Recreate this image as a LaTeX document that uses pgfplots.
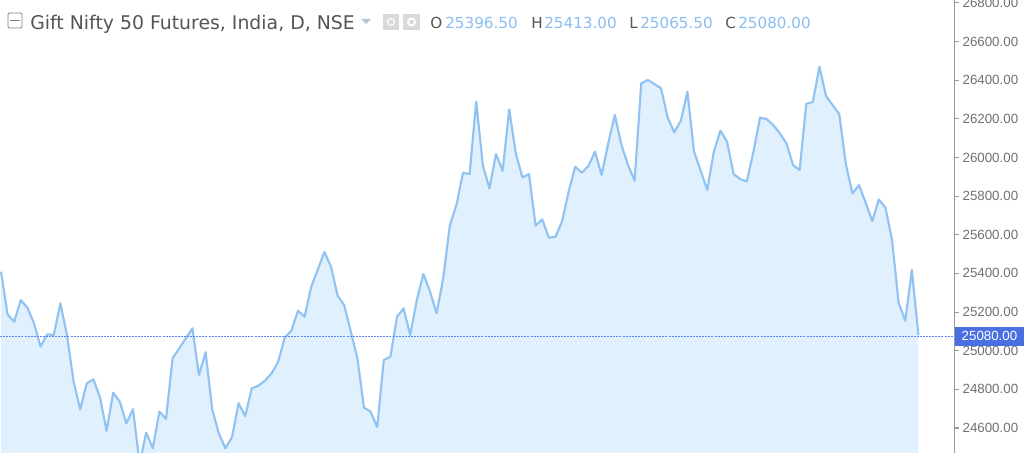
\documentclass[border=0pt]{standalone}
\usepackage{pgfplots}
\usepackage{pgfplotstable}
\usepackage{fontspec}
\setmainfont{Liberation Sans}
\newfontfamily\headfont{DejaVu Sans}
\pgfplotsset{compat=1.18}
\definecolor{linec}{HTML}{90C3F2}
\definecolor{areac}{HTML}{E0F0FC}
\definecolor{pricec}{HTML}{5F86F0}
\definecolor{tagc}{HTML}{4A6FE3}
\definecolor{axisc}{HTML}{9A9A9A}
\definecolor{tickc}{HTML}{707070}
\definecolor{headc}{HTML}{555555}
\definecolor{valc}{HTML}{8ABDF0}
\definecolor{arrowc}{HTML}{B8C4D0}

\pgfplotstableread{
i close
0 25409
1 25188
2 25150
3 25262
4 25223
5 25142
6 25021
7 25085
8 25081
9 25245
10 25081
11 24840
12 24697
13 24831
14 24852
15 24759
16 24586
17 24783
18 24736
19 24624
20 24698
21 24417
22 24576
23 24495
24 24685
25 24647
26 24961
27 25012
28 25064
29 25116
30 24874
31 24992
32 24697
33 24572
34 24495
35 24552
36 24728
37 24662
38 24805
39 24819
40 24845
41 24883
42 24943
43 25069
44 25104
45 25207
46 25176
47 25331
48 25420
49 25511
50 25435
51 25285
52 25236
53 25099
54 24960
55 24705
56 24685
57 24605
58 24952
59 24969
60 25176
61 25219
62 25081
63 25262
64 25397
65 25306
66 25193
67 25375
68 25647
69 25754
70 25921
71 25914
72 26289
73 25961
74 25840
75 26018
76 25930
77 26249
78 26021
79 25897
80 25914
81 25647
82 25680
83 25585
84 25590
85 25668
86 25823
87 25952
88 25921
89 25956
90 26030
91 25909
92 26073
93 26220
94 26065
95 25961
96 25880
97 26384
98 26401
99 26380
100 26358
101 26208
102 26130
103 26190
104 26340
105 26030
106 25932
107 25832
108 26030
109 26139
110 26082
111 25914
112 25888
113 25876
114 26030
115 26206
116 26199
117 26168
118 26125
119 26073
120 25961
121 25935
122 26277
123 26287
124 26470
125 26318
126 26271
127 26225
128 25966
129 25814
130 25857
131 25766
132 25671
133 25783
134 25740
135 25573
136 25249
137 25155
138 25418
139 25080
}\closes

\begin{document}
\begin{tikzpicture}[x=0.75pt,y=-0.75pt]
\useasboundingbox (0,0) rectangle (1024,453);
\begin{axis}[
    at={(0pt,-339.75pt)},
    anchor=south west,
    scale only axis,
    width=715.9pt,
    height=339.75pt,
    xmin=-0.15, xmax=144.47,
    ymin=24470.6, ymax=26814.9,
    clip mode=individual,
    axis x line=none,
    axis y line*=right,
    axis line style={draw=axisc, line width=1.4pt, -},
    ytick={24600,24800,...,26800},
    scaled y ticks=false,
    ytick style={draw=axisc, line width=0.8pt},
    tick align=outside,
    major tick length=3pt,
    yticklabel style={text=tickc, font=\fontsize{10}{12}\selectfont, xshift=-0.5pt,
        /pgf/number format/fixed, /pgf/number format/fixed zerofill,
        /pgf/number format/precision=2, /pgf/number format/1000 sep={},
        /pgf/number format/assume math mode=true},
]
\addplot[draw=none, fill=areac] table[x=i, y=close] {\closes} \closedcycle;
\addplot[color=linec, line width=1.6pt, line join=round] table[x=i, y=close] {\closes};
\addplot[draw=pricec, line width=0.8pt, dash pattern=on 1.5pt off 0.8pt] coordinates {(-0.15,25074) (144.47,25074)};
\coordinate (tag) at (axis cs:144.47,25074);
\end{axis}

% price tag on the scale
\node[anchor=west, fill=tagc, text=white, inner sep=0pt, minimum width=52pt, minimum height=14.5pt,
      font=\fontsize{10}{12}\selectfont] at (tag) {25080.00};

% header
\draw[color=gray, line width=0.7pt, rounded corners=1pt, fill=white] (8,13) rectangle (22,28);
\draw[color=gray, line width=0.7pt] (10,20.5) -- (20,20.5);
\node[anchor=base west, inner sep=0pt, text=headc, font=\headfont\fontsize{14.15}{16}\selectfont] at (30,30) {Gift Nifty 50 Futures, India, D, NSE};
\fill[color=arrowc] (361,19) -- (371,19) -- (366,24) -- cycle;
\fill[color=gray!30] (383,14) rectangle (399,30);
\fill[color=gray!30] (403,14) rectangle (420,30);
\draw[color=white, line width=0.9pt] (391,22) circle (3.5);
\draw[color=white, line width=1.5pt] (411.5,22) circle (3.5);
\node[anchor=base west, inner sep=0pt, text=headc, font=\headfont\fontsize{11.4}{14}\selectfont] at (430,29) {O};
\node[anchor=base west, inner sep=0pt, text=valc, font=\headfont\fontsize{11.4}{14}\selectfont] at (445,29) {25396.50};
\node[anchor=base west, inner sep=0pt, text=headc, font=\headfont\fontsize{11.4}{14}\selectfont] at (531,29) {H};
\node[anchor=base west, inner sep=0pt, text=valc, font=\headfont\fontsize{11.4}{14}\selectfont] at (544,29) {25413.00};
\node[anchor=base west, inner sep=0pt, text=headc, font=\headfont\fontsize{11.4}{14}\selectfont] at (629,29) {L};
\node[anchor=base west, inner sep=0pt, text=valc, font=\headfont\fontsize{11.4}{14}\selectfont] at (640,29) {25065.50};
\node[anchor=base west, inner sep=0pt, text=headc, font=\headfont\fontsize{11.4}{14}\selectfont] at (725,29) {C};
\node[anchor=base west, inner sep=0pt, text=valc, font=\headfont\fontsize{11.4}{14}\selectfont] at (738,29) {25080.00};
\end{tikzpicture}
\end{document}
